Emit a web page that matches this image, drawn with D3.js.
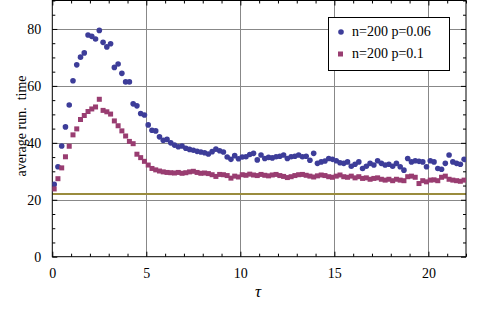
<!DOCTYPE html>
<html>
<head>
<meta charset="utf-8">
<script src="https://cdn.jsdelivr.net/npm/d3@7"></script>
<style>
    html, body { margin: 0; padding: 0; background: #fff; }
    svg text { font-family: "Liberation Serif", "DejaVu Serif", serif; }
</style>
</head>
<body>
<div id="chart"></div>
<script>
// sample points along tau
var tau = [
    0.1, 0.3, 0.5, 0.7, 0.9, 1.1, 1.3, 1.5, 1.7, 1.9,
    2.1, 2.3, 2.5, 2.7, 2.9, 3.1, 3.3, 3.5, 3.7, 3.9,
    4.1, 4.3, 4.5, 4.7, 4.9, 5.1, 5.3, 5.5, 5.7, 5.9,
    6.1, 6.3, 6.5, 6.7, 6.9, 7.1, 7.3, 7.5, 7.7, 7.9,
    8.1, 8.3, 8.5, 8.7, 8.9, 9.1, 9.3, 9.5, 9.7, 9.9,
    10.1, 10.3, 10.5, 10.7, 10.9, 11.1, 11.3, 11.5, 11.7, 11.9,
    12.1, 12.3, 12.5, 12.7, 12.9, 13.1, 13.3, 13.5, 13.7, 13.9,
    14.1, 14.3, 14.5, 14.7, 14.9, 15.1, 15.3, 15.5, 15.7, 15.9,
    16.1, 16.3, 16.5, 16.7, 16.9, 17.1, 17.3, 17.5, 17.7, 17.9,
    18.1, 18.3, 18.5, 18.7, 18.9, 19.1, 19.3, 19.5, 19.7, 19.9,
    20.1, 20.3, 20.5, 20.7, 20.9, 21.1, 21.3, 21.5, 21.7, 21.9
];

// n=200 p=0.06
var runP006 = [
    25.4, 31.6, 38.9, 45.6, 53.3, 61.8, 67.4, 70.1, 71.6, 77.9,
    77.4, 76.5, 79.5, 75.3, 73.7, 74.8, 66.5, 67.7, 64.4, 61.4,
    61.4, 53.7, 53.0, 50.3, 49.8, 46.3, 44.4, 44.2, 42.1, 40.9,
    41.2, 40.0, 39.2, 38.6, 38.9, 38.1, 37.7, 37.4, 37.0, 36.8,
    36.5, 36.1, 36.9, 37.8, 37.2, 36.8, 35.0, 34.2, 35.5, 34.4,
    35.0, 35.1, 35.9, 36.3, 34.0, 35.7, 34.5, 34.9, 34.7, 35.1,
    35.3, 35.7, 34.5, 35.1, 35.3, 35.7, 35.1, 35.3, 33.9, 36.3,
    32.8, 33.3, 33.6, 34.5, 34.2, 33.7, 33.0, 32.8, 33.3, 31.8,
    32.5, 33.3, 31.0, 31.8, 32.8, 32.2, 33.7, 32.8, 32.2, 32.5,
    31.8, 32.8, 31.6, 30.4, 34.5, 33.3, 33.7, 33.5, 33.3, 31.6,
    33.7, 33.3, 31.0, 30.7, 32.8, 35.7, 33.3, 32.8, 32.5, 34.2
];

// n=200 p=0.1
var runP01 = [
    23.8, 27.4, 31.2, 35.1, 38.8, 42.8, 44.9, 48.2, 49.6, 51.0,
    51.9, 52.6, 55.3, 51.4, 50.9, 50.1, 47.7, 46.0, 44.2, 42.4,
    40.5, 39.7, 36.0, 34.8, 33.5, 32.2, 31.0, 30.5, 30.1, 29.8,
    29.6, 29.5, 29.4, 29.6, 29.3, 29.5, 29.8, 30.0, 29.6, 29.3,
    29.4, 29.2, 28.8, 28.2, 28.9, 28.8, 28.5, 27.6, 28.3, 28.0,
    28.8, 28.6, 29.0, 28.7, 28.5, 28.9, 28.6, 28.4, 28.7, 28.9,
    28.5, 28.2, 27.8, 28.1, 28.5, 28.8, 28.9, 28.6, 28.3, 28.0,
    28.4, 28.7, 28.5, 28.1, 27.9, 28.3, 28.7, 28.1, 27.9, 28.3,
    27.7, 28.1, 27.5, 27.7, 27.2, 27.5, 27.7, 27.2, 26.9, 27.2,
    26.7, 27.2, 26.9, 26.7, 28.1, 28.3, 27.9, 25.7, 26.7, 26.3,
    26.9, 27.0, 26.7, 27.9, 28.3, 27.2, 26.9, 26.7, 26.5, 26.9
];

var seriesNames = ["n=200 p=0.06", "n=200 p=0.1"];
var refLevel = 22;

var xTicks = [0, 5, 10, 15, 20];
var yTicks = [0, 20, 40, 60, 80];

(function () {
    "use strict";

    var width = 500,
        height = 313,
        left = 52.3, right = 466, top = 0.5, bottom = 256.7;

    var svg = d3.select("#chart").append("svg")
        .attr("width", width)
        .attr("height", height);

    var x = d3.scaleLinear().domain([0, 22]).range([left, right]);
    var y = d3.scaleLinear().domain([0, 90]).range([bottom, top]);

    svg.append("clipPath").attr("id", "plotclip")
        .append("rect")
        .attr("x", left).attr("y", top)
        .attr("width", right - left).attr("height", bottom - top);

    // grid
    var grid = svg.append("g").attr("stroke", "#888").attr("stroke-width", 1);
    grid.selectAll("line.gx")
        .data(xTicks.filter(function (d) { return d > 0; }))
        .enter().append("line")
        .attr("x1", function (d) { return Math.round(x(d)) + 0.5; })
        .attr("x2", function (d) { return Math.round(x(d)) + 0.5; })
        .attr("y1", top).attr("y2", bottom);
    grid.selectAll("line.gy")
        .data(yTicks.filter(function (d) { return d > 0; }))
        .enter().append("line")
        .attr("y1", function (d) { return Math.round(y(d)) + 0.5; })
        .attr("y2", function (d) { return Math.round(y(d)) + 0.5; })
        .attr("x1", left).attr("x2", right);

    // reference level
    svg.append("line")
        .attr("x1", left).attr("x2", right)
        .attr("y1", y(refLevel)).attr("y2", y(refLevel))
        .attr("stroke", "#9a8c3e")
        .attr("stroke-width", 2);

    // frame with inward ticks on all four sides
    var frame = svg.append("g");
    var axes = [
        d3.axisBottom(x).tickValues(xTicks), d3.axisTop(x).tickValues(xTicks),
        d3.axisLeft(y).tickValues(yTicks), d3.axisRight(y).tickValues(yTicks)
    ];
    var minorX = d3.range(0, 23).filter(function (d) { return d % 5 !== 0; });
    var minorY = d3.range(0, 91, 5).filter(function (d) { return d % 20 !== 0; });

    function drawAxis(axis, minor, pos, labels) {
        var g = frame.append("g").attr("transform", pos);
        g.call(axis.tickSizeInner(-5).tickSizeOuter(0).tickPadding(labels ? 11 : 0)
            .tickFormat(labels ? d3.format("d") : ""));
        var g2 = frame.append("g").attr("transform", pos);
        g2.call(axis.tickValues(minor).tickSizeInner(-3).tickFormat(""));
        [g, g2].forEach(function (s) {
            s.select(".domain").remove();
            s.selectAll("line").attr("stroke", "#000");
            s.selectAll("text")
                .attr("fill", "#000")
                .style("font-size", "14px")
                .style("font-family", "'Liberation Serif', serif");
        });
    }

    drawAxis(axes[0], minorX, "translate(0," + bottom + ")", true);
    drawAxis(axes[1], minorX, "translate(0," + top + ")", false);
    drawAxis(axes[2], minorY, "translate(" + left + ",0)", true);
    drawAxis(axes[3], minorY, "translate(" + right + ",0)", false);

    frame.append("rect")
        .attr("x", left).attr("y", top)
        .attr("width", right - left).attr("height", bottom - top)
        .attr("fill", "none").attr("stroke", "#000").attr("stroke-width", 1);

    // data points
    var pts = svg.append("g").attr("clip-path", "url(#plotclip)");
    pts.selectAll("circle")
        .data(tau)
        .enter().append("circle")
        .attr("cx", function (d) { return x(d); })
        .attr("cy", function (d, i) { return y(runP006[i]); })
        .attr("r", 2.8)
        .attr("fill", "#3d3d99");

    var sq = 5;
    pts.selectAll("rect")
        .data(tau)
        .enter().append("rect")
        .attr("x", function (d) { return x(d) - sq / 2; })
        .attr("y", function (d, i) { return y(runP01[i]) - sq / 2; })
        .attr("width", sq).attr("height", sq)
        .attr("fill", "#993d71");

    // axis labels
    svg.append("text")
        .attr("transform", "translate(26,126) rotate(-90)")
        .attr("text-anchor", "middle")
        .style("font-size", "14px")
        .style("white-space", "pre")
        .text("average run.  time");

    svg.append("text")
        .attr("x", 258).attr("y", 297)
        .attr("text-anchor", "middle")
        .style("font-size", "17px")
        .style("font-style", "italic")
        .text("τ");

    // legend
    var legend = svg.append("g");
    legend.append("rect")
        .attr("x", 328.5).attr("y", 17.5)
        .attr("width", 121).attr("height", 53)
        .attr("fill", "#fff").attr("stroke", "#000");

    var entry = legend.selectAll("g.entry")
        .data(seriesNames)
        .enter().append("g")
        .attr("transform", function (d, i) {
            return "translate(0," + (i * 22) + ")";
        });

    entry.append("text")
        .attr("x", 352).attr("y", 36)
        .style("font-size", "14px")
        .text(function (d) { return d; });

    legend.append("circle")
        .attr("cx", 341).attr("cy", 32).attr("r", 2.8)
        .attr("fill", "#3d3d99");
    legend.append("rect")
        .attr("x", 338).attr("y", 51.5).attr("width", sq).attr("height", sq)
        .attr("fill", "#993d71");
}());
</script>
</body>
</html>
